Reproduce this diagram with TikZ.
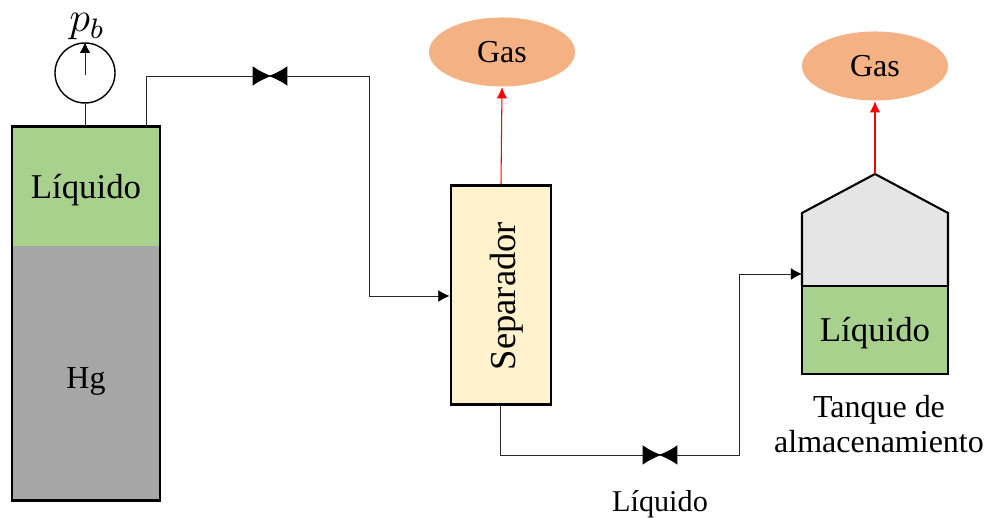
\documentclass[tikz,border=0pt]{standalone}
\usepackage{fontspec}
\setmainfont{Liberation Serif}
\usetikzlibrary{arrows.meta,shapes.geometric}
\definecolor{liqgreen}{HTML}{A9D18E}
\definecolor{hggray}{HTML}{A6A6A6}
\definecolor{sepyellow}{HTML}{FFF2CC}
\definecolor{gasorange}{HTML}{F4B183}
\definecolor{tankgray}{HTML}{E5E5E5}
\tikzset{
  pipe/.style={line width=0.25pt,black!85},
  valvepipe/.style={pipe,shorten >=-0.35pt,-{Latex[length=5.3pt,width=5.6pt,black]}},
  inpipe/.style={pipe,-{Latex[length=3.2pt,width=3.4pt,black]}},
  gasline/.style={line width=0.3pt,red,-{Latex[length=3.2pt,width=3pt]}},
  gascloud/.style={ellipse,fill=gasorange,minimum width=1.46cm,minimum height=0.69cm,inner sep=0pt,font=\fontsize{9.1}{10}\selectfont},
  lbl/.style={font=\fontsize{9.1}{10}\selectfont,inner sep=0pt},
  biglbl/.style={font=\fontsize{9.9}{11}\selectfont,inner sep=0pt},
  wall/.style={draw=black,line width=0.85pt}
}
\begin{document}
\begin{tikzpicture}
    \useasboundingbox (0,0) rectangle (9.87,5.18);
    % well
    \fill [hggray] (0.12,0.17) rectangle (1.60,2.72);
    \fill [liqgreen] (0.12,2.72) rectangle (1.60,3.91);
    \node [wall,minimum width=1.48cm,minimum height=3.74cm,inner sep=0pt] (well) at (0.86,2.04) {};
    \node [biglbl] (wellliq) at (0.86,3.28) {Líquido};
    \node [lbl] (wellhg) at (0.86,1.37) {Hg};
    % gauge
    \node [circle,draw,line width=0.4pt,minimum size=0.60cm,inner sep=0pt] (gauge) at (0.85,4.45) {};
    \node [font=\fontsize{12}{14}\selectfont,inner sep=0pt] (pb) at (0.87,4.91) {$p_b$};
    \draw [pipe] (gauge) -- (gauge|-well.north);
    \draw [pipe,-{Latex[length=3pt,width=3pt,black]}] (0.85,4.43) -- (gauge.north);
    % separator
    \node [wall,fill=sepyellow,minimum width=1.00cm,minimum height=2.19cm,inner sep=0pt] (sep) at (5.01,2.225) {};
    \node [font=\fontsize{10.4}{12}\selectfont,inner sep=0pt,rotate=90] (seplbl) at (5.07,2.22) {Separador};
    % gas
    \node [gascloud] (gasa) at (5.02,4.66) {Gas};
    \node [gascloud] (gasb) at (8.75,4.52) {Gas};
    % storage tank
    \coordinate (apex) at (8.75,3.44);
    \draw [line width=0.6pt,fill=tankgray] (8.02,2.32) -- (8.02,3.05) -- (apex) -- (9.48,3.05) -- (9.48,2.32);
    \node [draw=black,line width=0.4pt,fill=liqgreen,minimum width=1.46cm,minimum height=0.88cm,inner sep=0pt] (stock) at (8.75,1.88) {};
    \node [biglbl] (stocklbl) at (8.75,1.85) {Líquido};
    \node [lbl,align=center] (tanklbl) at (8.79,0.94) {Tanque de\\almacenamiento};
    \node [font=\fontsize{8.6}{10}\selectfont,inner sep=0pt] (liqout) at (6.60,0.14) {Líquido};
    % valves
    \coordinate (valvea) at (2.70,4.42);
    \coordinate (valveb) at (6.60,0.63);
    % pipes
    \coordinate (wellout) at (1.465,3.91);
    \coordinate (beltop) at (3.695,4.42);
    \coordinate (sepout) at (5.005,1.13);
    \coordinate (belbot) at (7.395,0.63);
    \draw [valvepipe] (wellout) |- (valvea);
    \draw [valvepipe] (beltop) -- (valvea);
    \draw [inpipe] (beltop) |- (sep.west|-0,2.22);
    \draw [valvepipe] (sepout) |- (valveb);
    \draw [valvepipe] (belbot) -- (valveb);
    \draw [inpipe] (belbot) |- (8.02,2.44);
    \draw [gasline] (sep.north) -- (gasa.south);
    \draw [gasline] (apex) -- (gasb.south);
\end{tikzpicture}
\end{document}
